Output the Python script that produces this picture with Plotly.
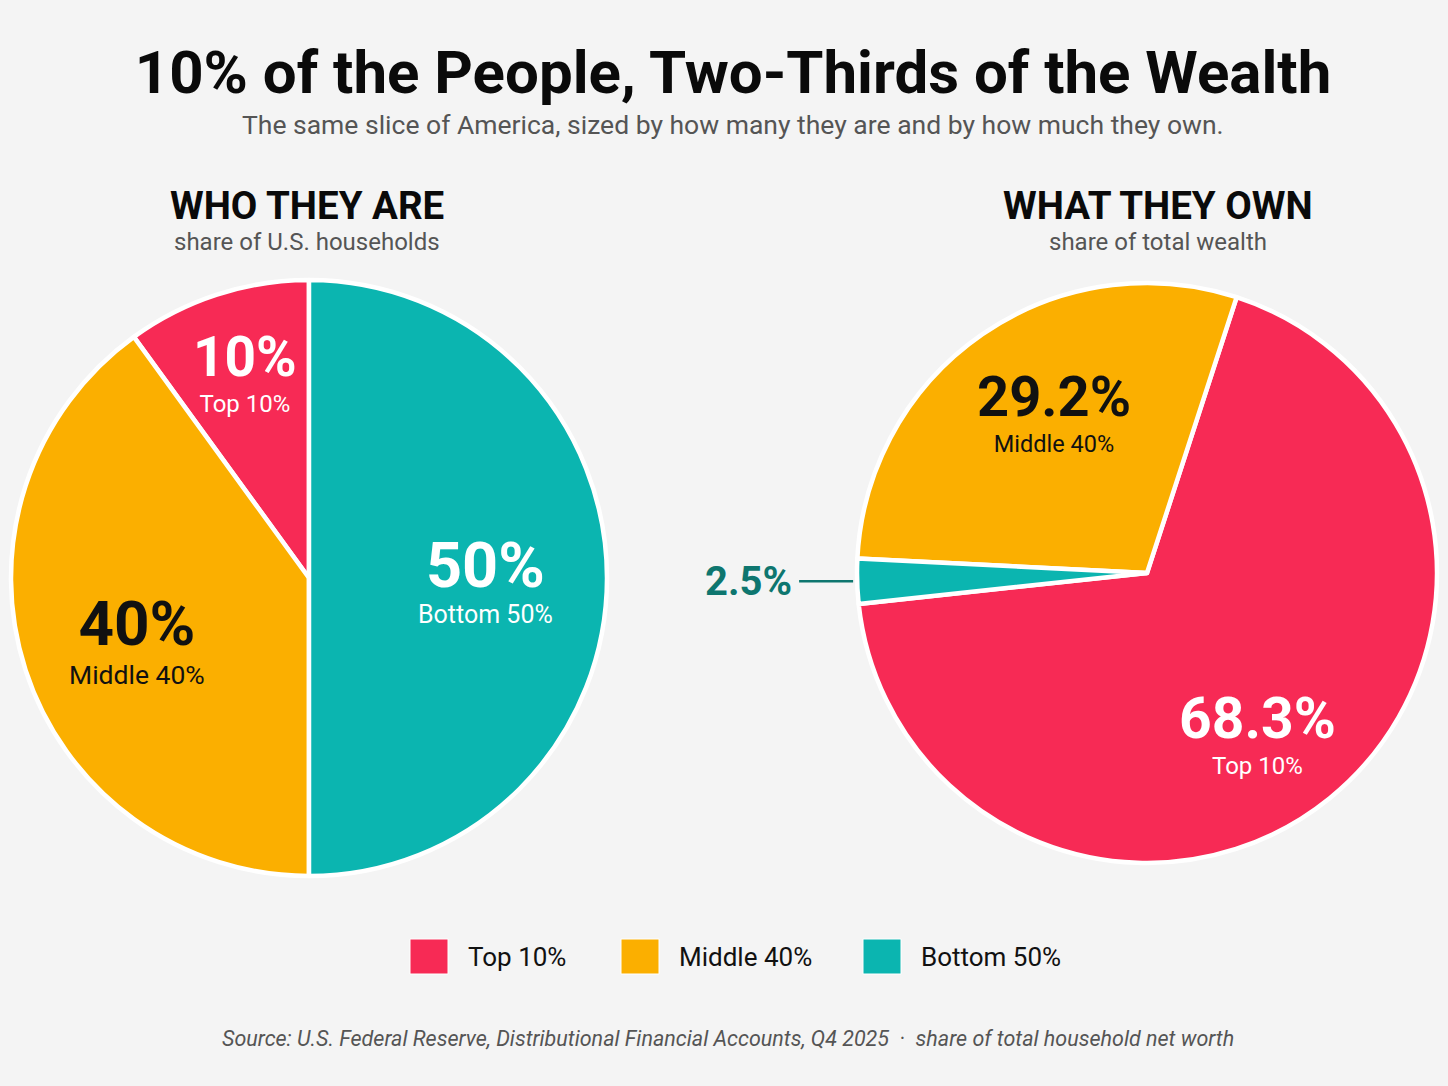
import plotly.graph_objects as go
import math

# ---- data ----
groups = ["Top 10%", "Middle 40%", "Bottom 50%"]
household_share = [10, 40, 50]
wealth_share = [68.3, 29.2, 2.5]
colors = ["#F72A55", "#FBAF00", "#0BB5B0"]

title = "10% of the People, Two-Thirds of the Wealth"
subtitle = "The same slice of America, sized by how many they are and by how much they own."
panel_titles = ["WHO THEY ARE", "WHAT THEY OWN"]
panel_subtitles = ["share of U.S. households", "share of total wealth"]
source = ("Source: U.S. Federal Reserve, Distributional Financial Accounts, Q4 2025"
          "  \u00b7  share of total household net worth")

# ---- geometry / style ----
W, H = 1448, 1086
radii = [298, 290]
centers = [(309, 578), (1147, 573)]
rotations = [-36, 18]
FONT = "Roboto"
BG = "#F4F4F4"
label_colors = ["white", "#111111", "white"]
label_rfrac = [[0.70, 0.62, 0.594], [0.69, 0.62, None]]
label_dang = [[0, -3.7, 2.9], [5.7, 3.5, 0]]
num_sizes = [[55, 62, 63], [57, 56, None]]
sub_sizes = [[24, 26.5, 25], [24, 23.5, None]]
base_sizes = [[28, 30, 28], [28, 28, None]]


def domain(c, r):
    cx, cy = c
    return dict(x=[(cx - r) / W, (cx + r) / W], y=[(H - cy - r) / H, (H - cy + r) / H])


def mid_angles(values, rot):
    # plotly counterclockwise layout: first slice lies clockwise of `rot`
    tot = float(sum(values))
    deg = [v / tot * 360.0 for v in values]
    mids = [rot + deg[0] / 2.0]
    acc = 0.0
    for d in deg[1:]:
        mids.append(rot - (acc + d / 2.0))
        acc += d
    return mids


def px_to_paper(x, y):
    return x / W, 1 - y / H


fig = go.Figure()
for k, vals in enumerate([household_share, wealth_share]):
    fig.add_trace(go.Pie(
        labels=groups, values=vals, sort=False, direction="counterclockwise",
        rotation=rotations[k], domain=domain(centers[k], radii[k]),
        marker=dict(colors=colors, line=dict(color="white", width=4.5)),
        textinfo="none", hoverinfo="label+value", showlegend=False,
    ))

ann = []
# slice labels, placed along each slice's mid-angle
for k, vals in enumerate([household_share, wealth_share]):
    cx, cy = centers[k]
    R = radii[k]
    mids = mid_angles(vals, rotations[k])
    for i, (g, v) in enumerate(zip(groups, vals)):
        rf = label_rfrac[k][i]
        if rf is None:
            continue
        a = math.radians(mids[i] + label_dang[k][i])
        bx = cx + rf * R * math.sin(a)
        by = cy - rf * R * math.cos(a)
        x, y = px_to_paper(bx, by - 8)
        txt = ("<span style='font-size:%gpx'><b>%g%%</b></span><br>"
               "<span style='font-size:%gpx'>%s</span>" % (num_sizes[k][i], v, sub_sizes[k][i], g))
        ann.append(dict(text=txt, x=x, y=y, xref="paper", yref="paper",
                        xanchor="center", yanchor="middle", showarrow=False, align="center",
                        font=dict(family=FONT, size=base_sizes[k][i], color=label_colors[i])))

# small-slice callout for the bottom 50% wealth share
cx, cy = centers[1]
R = radii[1]
a = math.radians(mid_angles(wealth_share, rotations[1])[2])
ex, ey = px_to_paper(cx + R * math.sin(a), cy - R * math.cos(a))
ann.append(dict(text="<b>%g%%</b>" % wealth_share[2], x=ex, y=ey,
                xref="paper", yref="paper", showarrow=True, arrowhead=0, arrowwidth=2.5,
                arrowcolor="#0E766F", ax=-58, ay=0, xanchor="right", yanchor="middle",
                standoff=4, borderpad=6,
                font=dict(family=FONT, size=40, color="#0E766F")))

# panel titles
for i, (t, st) in enumerate(zip(panel_titles, panel_subtitles)):
    xc = [307, 1158][i]
    ann.append(dict(text="<b>%s</b>" % t, x=xc / W, y=1 - 205 / H, xref="paper", yref="paper",
                    xanchor="center", yanchor="middle", showarrow=False,
                    font=dict(family=FONT, size=38.5, color="#0a0a0a")))
    ann.append(dict(text=st, x=xc / W, y=1 - 242 / H, xref="paper", yref="paper",
                    xanchor="center", yanchor="middle", showarrow=False,
                    font=dict(family=FONT, size=24, color="#555555")))

ann.append(dict(text=subtitle, x=733 / W, y=1 - 125 / H, xref="paper", yref="paper",
                xanchor="center", yanchor="middle", showarrow=False,
                font=dict(family=FONT, size=26.5, color="#555555")))

# legend built from the categories
leg_sw = [429, 640, 882]
for g, c, sx in zip(groups, colors, leg_sw):
    ann.append(dict(text=g, x=(sx + 37) / W, y=1 - 957 / H, xref="paper", yref="paper",
                    xanchor="left", yanchor="middle", showarrow=False,
                    font=dict(family=FONT, size=26, color="#111111")))
shapes = []
for c, sx in zip(colors, leg_sw):
    shapes.append(dict(type="rect", xref="paper", yref="paper",
                       x0=(sx - 19) / W, x1=(sx + 19) / W,
                       y0=1 - 974 / H, y1=1 - 939 / H,
                       fillcolor=c, line=dict(color="white", width=1)))

ann.append(dict(text="<i>%s</i>" % source, x=728 / W, y=1 - 1038 / H, xref="paper", yref="paper",
                xanchor="center", yanchor="middle", showarrow=False,
                font=dict(family=FONT, size=21.5, color="#555555")))

fig.update_layout(
    width=W, height=H, autosize=False,
    margin=dict(l=0, r=0, t=0, b=0),
    paper_bgcolor=BG, plot_bgcolor=BG,
    title=dict(text="<b>%s</b>" % title, x=733 / W, y=1 - 72 / H, xanchor="center",
               yanchor="middle", xref="paper", yref="container",
               font=dict(family=FONT, size=60, color="#0a0a0a")),
    annotations=ann, shapes=shapes,
)

fig.write_html("out.html", config={"displayModeBar": False},
               post_script="document.body.style.margin='0';"
                           "document.body.style.overflow='hidden';"
                           "document.body.style.background='%s';" % BG)
